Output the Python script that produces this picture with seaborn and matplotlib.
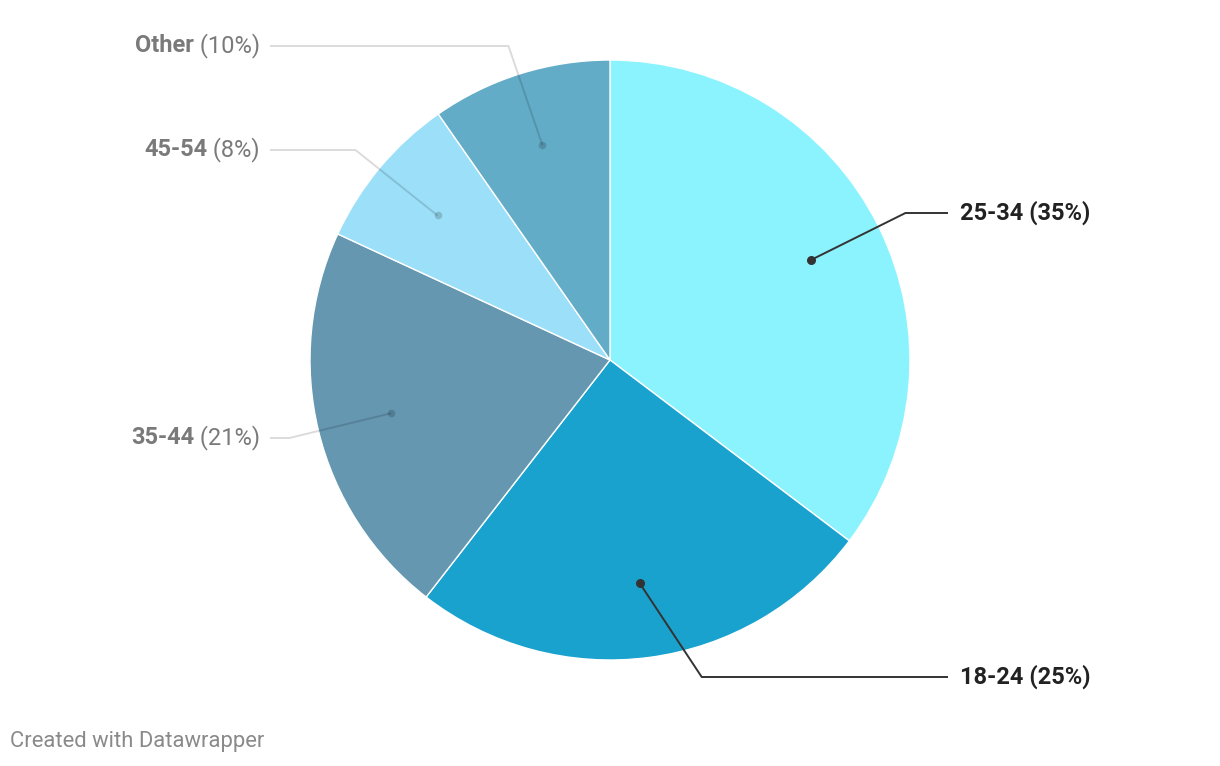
import numpy as np
import matplotlib
matplotlib.use("Agg")
import matplotlib.pyplot as plt
import seaborn as sns

# data, clockwise from 12 o'clock
groups = ["25-34", "18-24", "35-44", "45-54", "Other"]
shares = [35.3, 25.2, 21.4, 8.4, 9.7]
colors = ["#8bf3fe", "#1aa2ce", "#6597b1", "#9cdff8", "#63acc8"]
highlight = ["25-34", "18-24"]

# label rows (pixel y from top), chosen to match the layout
label_y = {"25-34": 213, "18-24": 677, "35-44": 438, "45-54": 150, "Other": 46}

sns.set_theme(style="white")
plt.rcParams["font.family"] = ["Roboto", "DejaVu Sans"]

W, H = 1220, 766
fig = plt.figure(figsize=(W / 100, H / 100), dpi=100)
ax = fig.add_axes([0, 0, 1, 1])

cx, cy, r = 610, H - 360, 300
wedges, _ = ax.pie(shares, colors=colors, startangle=90, counterclock=False,
                   center=(cx, cy), radius=r,
                   wedgeprops=dict(edgecolor="white", linewidth=1))
ax.set_xlim(0, W)
ax.set_ylim(0, H)
ax.set_aspect("auto")
ax.axis("off")

renderer = fig.canvas.get_renderer()
fs = 17

for w, g, s in zip(wedges, groups, shares):
    mid = np.deg2rad((w.theta1 + w.theta2) / 2)
    dx, dy = cx + 0.75 * r * np.cos(mid), cy + 0.75 * r * np.sin(mid)
    ly = H - label_y[g]
    right = np.cos(mid) > 0
    off = np.sqrt(max((1.1 * r) ** 2 - (ly - cy) ** 2, 0))
    ex = cx + off if right else cx - off
    hx = 948 if right else 270
    pct = f"{round(s):.0f}%"
    if g in highlight:
        lc, tc = "#333333", "#222222"
        ax.plot([dx, ex, hx], [dy, ly, ly], color=lc, lw=1.4, zorder=3,
                solid_capstyle="butt")
        ax.scatter([dx], [dy], s=30, color=lc, zorder=4)
    else:
        tc = "#7a7a7a"
        ax.plot([dx, ex, hx], [dy, ly, ly], color=(0, 0, 0, 0.14), lw=1.4,
                zorder=3, solid_capstyle="butt")
        ax.scatter([dx], [dy], s=30, color=(0, 0, 0, 0.17), lw=0, zorder=4)

    if right:
        ax.text(960, ly, f"{g} ({pct})", ha="left", va="center",
                fontsize=fs, fontweight="bold", color=tc)
    else:
        t = ax.text(260, ly, f" ({pct})", ha="right", va="center",
                    fontsize=fs, color=tc)
        bb = t.get_window_extent(renderer=renderer)
        ax.text(bb.x0, ly, g, ha="right", va="center",
                fontsize=fs, fontweight="bold", color=tc)

fig.text(10 / W, 1 - 742 / H, "Created with Datawrapper", ha="left",
         va="center", fontsize=15.8, color="#8a8a8a")

fig.savefig("out.png", dpi=100, facecolor="white")
